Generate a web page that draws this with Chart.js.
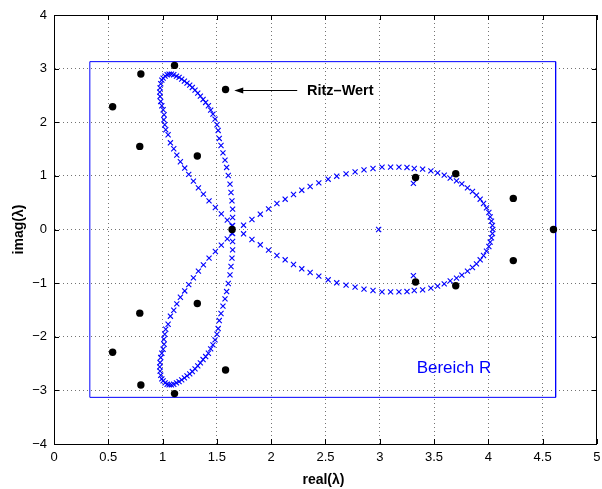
<!DOCTYPE html>
<html>
<head>
<meta charset="utf-8">
<script src="https://cdn.jsdelivr.net/npm/chart.js@4/dist/chart.umd.min.js"></script>
<style>
  html, body { margin: 0; padding: 0; background: #fff; }
  canvas { display: block; }
</style>
</head>
<body>
<canvas id="ritz" width="602" height="489"></canvas>
<script>
// Ritz-Werte und Rand des Gebiets (Punkte)

// oberes linkes Blatt: senkrechter Ast nach oben, Spitze, schräger Ast zurück
const blattObenRe = [1.645, 1.645, 1.645, 1.639, 1.630, 1.621, 1.605, 1.590, 1.575, 1.556, 1.538, 1.522, 1.512,
  1.501, 1.483, 1.464, 1.443, 1.422, 1.397, 1.373, 1.348, 1.324, 1.299, 1.274, 1.250, 1.225, 1.201, 1.176,
  1.152, 1.128, 1.103, 1.081, 1.060, 1.042, 1.023, 1.005, 0.993, 0.983, 0.977, 0.974, 0.977, 0.983, 0.993,
  1.005, 1.014, 1.012, 1.020, 1.029, 1.051, 1.072, 1.103, 1.131, 1.164, 1.204, 1.241, 1.284, 1.330, 1.376,
  1.428, 1.486, 1.541, 1.596, 1.639];
const blattObenIm = [0.075, 0.224, 0.379, 0.534, 0.690, 0.845, 1.007, 1.157, 1.293, 1.429, 1.567, 1.698, 1.847,
  1.953, 2.058, 2.151, 2.226, 2.308, 2.369, 2.425, 2.487, 2.543, 2.599, 2.649, 2.692, 2.730, 2.767, 2.804,
  2.836, 2.860, 2.886, 2.898, 2.898, 2.886, 2.860, 2.823, 2.786, 2.718, 2.640, 2.562, 2.481, 2.388, 2.308,
  2.233, 2.140, 2.047, 1.953, 1.860, 1.767, 1.617, 1.506, 1.387, 1.263, 1.146, 1.028, 0.901, 0.776, 0.659,
  0.534, 0.410, 0.291, 0.174, 0.067];

// unteres linkes Blatt (gleiche Realteile)
const blattUntenRe = blattObenRe;
const blattUntenIm = [-0.075, -0.224, -0.379, -0.534, -0.690, -0.845, -1.007, -1.157, -1.293, -1.429, -1.567, -1.698, -1.847,
  -1.953, -2.058, -2.151, -2.226, -2.308, -2.369, -2.425, -2.487, -2.543, -2.599, -2.649, -2.692, -2.730, -2.767, -2.804,
  -2.836, -2.860, -2.886, -2.898, -2.898, -2.886, -2.860, -2.823, -2.786, -2.718, -2.640, -2.562, -2.481, -2.388, -2.308,
  -2.233, -2.140, -2.047, -1.953, -1.860, -1.767, -1.617, -1.506, -1.387, -1.263, -1.146, -1.028, -0.901, -0.776, -0.659,
  -0.534, -0.410, -0.291, -0.174, -0.067];

// rechtes Blatt, oberer Bogen bis zur Spitze
const blattRechtsObenRe = [1.746, 1.823, 1.900, 1.976, 2.053, 2.129, 2.206, 2.282, 2.359, 2.439, 2.525, 2.604,
  2.690, 2.773, 2.855, 2.938, 3.021, 3.100, 3.177, 3.251, 3.318, 3.395, 3.471, 3.533, 3.594, 3.649, 3.707,
  3.756, 3.808, 3.854, 3.891, 3.925, 3.956, 3.983, 4.005, 4.017, 4.029, 4.038, 4.041];
const blattRechtsObenIm = [0.080, 0.187, 0.285, 0.384, 0.485, 0.565, 0.653, 0.733, 0.802, 0.869, 0.938, 0.994,
  1.037, 1.075, 1.112, 1.138, 1.162, 1.162, 1.162, 1.157, 1.138, 1.125, 1.093, 1.056, 1.013, 0.957, 0.907,
  0.851, 0.776, 0.709, 0.640, 0.565, 0.485, 0.403, 0.317, 0.235, 0.155, 0.075, 0];

// rechtes Blatt, unterer Bogen
const blattRechtsUntenRe = [1.746, 1.823, 1.900, 1.976, 2.053, 2.129, 2.206, 2.282, 2.359, 2.439, 2.525, 2.604,
  2.690, 2.773, 2.855, 2.938, 3.021, 3.100, 3.177, 3.251, 3.318, 3.395, 3.471, 3.533, 3.594, 3.649, 3.707,
  3.756, 3.808, 3.854, 3.891, 3.925, 3.956, 3.983, 4.005, 4.017, 4.029, 4.038];
const blattRechtsUntenIm = [-0.080, -0.187, -0.285, -0.384, -0.485, -0.565, -0.653, -0.733, -0.802, -0.869, -0.938, -0.994,
  -1.037, -1.075, -1.112, -1.138, -1.162, -1.162, -1.162, -1.157, -1.138, -1.125, -1.093, -1.056, -1.013, -0.957, -0.907,
  -0.851, -0.776, -0.709, -0.640, -0.565, -0.485, -0.403, -0.317, -0.235, -0.155, -0.075];

// einzelne Kreuze
const einzelRe = [2.99, 3.31, 3.31];
const einzelIm = [0, 0.86, -0.86];

// Ritz-Werte (schwarze Punkte)
const ritzRe = [0.54, 0.80, 1.11, 1.58, 0.79, 1.32, 1.64, 3.33, 3.70, 4.23, 4.60,
  0.54, 0.80, 1.11, 1.58, 0.79, 1.32, 3.33, 3.70, 4.23];
const ritzIm = [2.29, 2.90, 3.06, 2.61, 1.55, 1.37, 0, 0.97, 1.04, 0.58, 0,
  -2.29, -2.90, -3.06, -2.62, -1.56, -1.38, -0.98, -1.05, -0.58];

// Bereich R (Rechteck)
const bereichRe = [0.33, 4.62, 4.62, 0.33, 0.33];
const bereichIm = [3.13, 3.13, -3.13, -3.13, 3.13];

const xTicks = [0, 0.5, 1, 1.5, 2, 2.5, 3, 3.5, 4, 4.5, 5];
const yTicks = [-4, -3, -2, -1, 0, 1, 2, 3, 4];

function punkte(re, im) {
  return re.map((x, i) => ({ x: x, y: im[i] }));
}

const kurve = [].concat(
  punkte(blattObenRe, blattObenIm),
  punkte(blattUntenRe, blattUntenIm),
  punkte(blattRechtsObenRe, blattRechtsObenIm),
  punkte(blattRechtsUntenRe, blattRechtsUntenIm),
  punkte(einzelRe, einzelIm)
);

const FONT = '"Liberation Sans", Arial, Helvetica, sans-serif';
const minus = (s) => String(s).replace('-', '\u2212');

// Rahmen, Striche nach innen, Pfeil und Beschriftungen
const matlabDeko = {
  id: 'matlabDeko',
  afterDraw(chart) {
    const ctx = chart.ctx;
    const a = chart.chartArea;
    const sx = chart.scales.x;
    const sy = chart.scales.y;
    ctx.save();
    ctx.strokeStyle = '#000';
    ctx.lineWidth = 1;
    ctx.strokeRect(Math.round(a.left) + 0.5, Math.round(a.top) + 0.5,
      Math.round(a.right - a.left) - 1, Math.round(a.bottom - a.top));

    ctx.beginPath();
    xTicks.forEach((v) => {
      const px = Math.round(sx.getPixelForValue(v)) + 0.5;
      ctx.moveTo(px, a.bottom); ctx.lineTo(px, a.bottom - 5);
      ctx.moveTo(px, a.top); ctx.lineTo(px, a.top + 5);
    });
    yTicks.forEach((v) => {
      const py = Math.round(sy.getPixelForValue(v)) + 0.5;
      ctx.moveTo(a.left, py); ctx.lineTo(a.left + 5, py);
      ctx.moveTo(a.right, py); ctx.lineTo(a.right - 5, py);
    });
    ctx.stroke();

    // Pfeil zum Ritz-Wert
    const ay = Math.round(sy.getPixelForValue(2.6)) + 0.5;
    const x0 = sx.getPixelForValue(2.24);
    const x1 = sx.getPixelForValue(1.66);
    ctx.beginPath();
    ctx.moveTo(x0, ay); ctx.lineTo(x1 + 6, ay);
    ctx.stroke();
    ctx.fillStyle = '#000';
    ctx.beginPath();
    ctx.moveTo(x1, ay); ctx.lineTo(x1 + 9, ay - 3); ctx.lineTo(x1 + 9, ay + 3); ctx.closePath();
    ctx.fill();

    ctx.textBaseline = 'middle';
    ctx.textAlign = 'left';
    ctx.font = 'bold 14.5px ' + FONT;
    ctx.fillText('Ritz\u2013Wert', sx.getPixelForValue(2.33), ay);

    ctx.fillStyle = '#0000ff';
    ctx.font = '17px ' + FONT;
    ctx.fillText('Bereich R', sx.getPixelForValue(3.34), sy.getPixelForValue(-2.58));

    // Achsentitel
    ctx.fillStyle = '#000';
    ctx.font = 'bold 14px ' + FONT;
    ctx.textAlign = 'center';
    ctx.fillText('real(\u03bb)', (a.left + a.right) / 2 - 2, 480);
    ctx.translate(19, (a.top + a.bottom) / 2);
    ctx.rotate(-Math.PI / 2);
    ctx.fillText('imag(\u03bb)', 0, 0);
    ctx.restore();
  }
};

new Chart(document.getElementById('ritz'), {
  type: 'scatter',
  data: {
    datasets: [
      {
        data: punkte(ritzRe, ritzIm),
        pointStyle: 'circle',
        pointRadius: 3.7,
        backgroundColor: '#000',
        borderColor: '#000',
        borderWidth: 0,
        order: 0,
      },
      {
        data: kurve,
        pointStyle: 'crossRot',
        pointRadius: 3.6,
        borderColor: '#0000ff',
        borderWidth: 1.1,
        order: 1,
      },
      {
        data: punkte(bereichRe, bereichIm),
        showLine: true,
        pointRadius: 0,
        borderColor: '#0000ff',
        borderWidth: 1,
        fill: false,
        order: 2,
      },
    ],
  },
  options: {
    responsive: false,
    devicePixelRatio: 1,
    animation: false,
    layout: { padding: { left: 0, right: 4, top: 15, bottom: 0 } },
    plugins: { legend: { display: false }, tooltip: { enabled: false } },
    scales: {
      x: {
        type: 'linear',
        min: 0,
        max: 5,
        afterBuildTicks: (s) => { s.ticks = xTicks.map((v) => ({ value: v })); },
        afterFit: (s) => { s.height = 45; s.paddingLeft = 0; s.paddingRight = 0; },
        ticks: { color: '#000', font: { family: FONT, size: 13 }, padding: 6, maxRotation: 0, autoSkip: false,
          callback: (v) => minus(v) },
        grid: { color: 'rgba(0,0,0,0.55)', lineWidth: 1, drawTicks: false },
        border: { display: true, color: '#000', width: 1, dash: [1, 3] },
      },
      y: {
        type: 'linear',
        min: -4,
        max: 4,
        afterBuildTicks: (s) => { s.ticks = yTicks.map((v) => ({ value: v })); },
        afterFit: (s) => { s.width = 54; s.paddingTop = 0; s.paddingBottom = 0; },
        ticks: { color: '#000', font: { family: FONT, size: 13 }, padding: 7, autoSkip: false,
          callback: (v) => minus(v) },
        grid: { color: 'rgba(0,0,0,0.55)', lineWidth: 1, drawTicks: false },
        border: { display: true, color: '#000', width: 1, dash: [1, 3] },
      },
    },
  },
  plugins: [matlabDeko],
});
</script>
</body>
</html>
